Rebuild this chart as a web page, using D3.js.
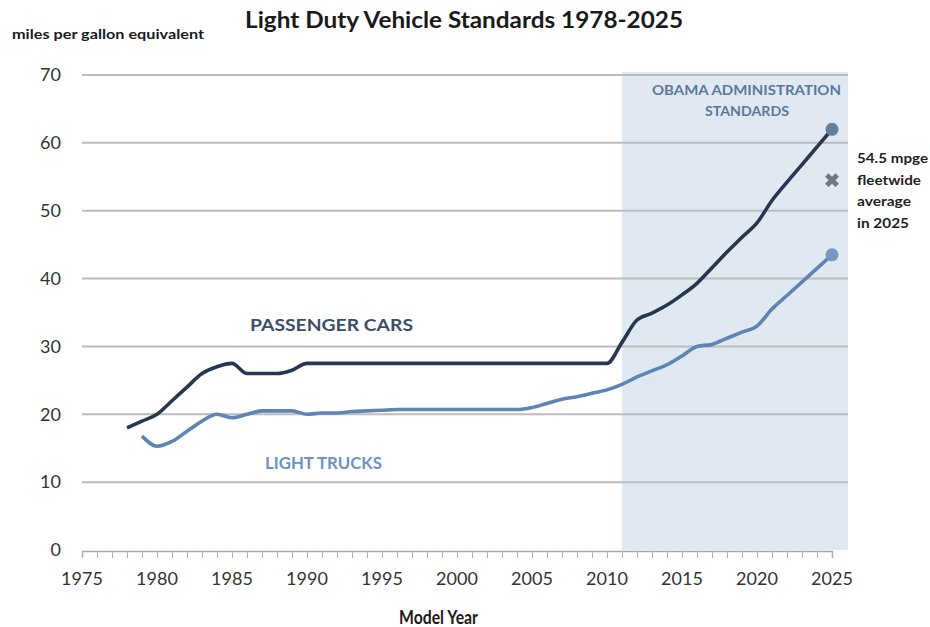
<!DOCTYPE html>
<html>
<head>
<meta charset="utf-8">
<script src="https://cdn.jsdelivr.net/npm/d3@7"></script>
<style>
  html, body { margin: 0; padding: 0; background: #ffffff; }
  svg { display: block; font-family: Lato, "Open Sans", sans-serif; }
</style>
</head>
<body>
<svg id="chart" width="930" height="627"></svg>
<script>
// Model years and fuel economy standards (mpg equivalent)
const carYears = [1978, 1979, 1980, 1981, 1982, 1983, 1984, 1985, 1986, 1987, 1988, 1989,
  1990, 1991, 1992, 1993, 1994, 1995, 1996, 1997, 1998, 1999, 2000, 2001, 2002, 2003,
  2004, 2005, 2006, 2007, 2008, 2009, 2010, 2011, 2012, 2013, 2014, 2015, 2016, 2017,
  2018, 2019, 2020, 2021, 2022, 2023, 2024, 2025];
const carMpg = [18.0, 19.0, 20.0, 22.0, 24.0, 26.0, 27.0, 27.5, 26.0, 26.0, 26.0, 26.5,
  27.5, 27.5, 27.5, 27.5, 27.5, 27.5, 27.5, 27.5, 27.5, 27.5, 27.5, 27.5, 27.5, 27.5,
  27.5, 27.5, 27.5, 27.5, 27.5, 27.5, 27.5, 30.6, 33.9, 34.9, 36.1, 37.6, 39.3, 41.6,
  43.9, 46.1, 48.2, 51.5, 54.2, 56.8, 59.4, 62.0];

const truckYears = [1979, 1980, 1981, 1982, 1983, 1984, 1985, 1986, 1987, 1988, 1989,
  1990, 1991, 1992, 1993, 1994, 1995, 1996, 1997, 1998, 1999, 2000, 2001, 2002, 2003,
  2004, 2005, 2006, 2007, 2008, 2009, 2010, 2011, 2012, 2013, 2014, 2015, 2016, 2017,
  2018, 2019, 2020, 2021, 2022, 2023, 2024, 2025];
const truckMpg = [16.8, 15.3, 16.0, 17.5, 19.0, 20.0, 19.5, 20.0, 20.5, 20.5, 20.5,
  20.0, 20.2, 20.2, 20.4, 20.5, 20.6, 20.7, 20.7, 20.7, 20.7, 20.7, 20.7, 20.7, 20.7,
  20.7, 21.0, 21.6, 22.2, 22.6, 23.1, 23.6, 24.4, 25.5, 26.4, 27.3, 28.6, 30.0, 30.3,
  31.2, 32.1, 33.0, 35.5, 37.5, 39.5, 41.5, 43.5];

const fleetYear = 2025;
const fleetMpg = 54.5;
const shadeStartYear = 2011;

const yTicks = [0, 10, 20, 30, 40, 50, 60, 70];
const xLabelTicks = [1975, 1980, 1985, 1990, 1995, 2000, 2005, 2010, 2015, 2020, 2025];
const xMinorTicks = d3.range(1975, 2026);

const svg = d3.select("#chart");

const plotLeft = 82, plotRight = 848;
const x = d3.scaleLinear().domain([1975, 2025]).range([82, 832]);
const y = d3.scaleLinear().domain([0, 70]).range([550, 75]);

// Shaded period of the new standards
svg.append("rect")
  .attr("x", x(shadeStartYear))
  .attr("y", y(70) - 3)
  .attr("width", plotRight - x(shadeStartYear))
  .attr("height", y(0) - y(70) + 3)
  .attr("fill", "#e0e8f2");

// Horizontal gridlines
svg.append("g")
  .selectAll("line")
  .data(yTicks.filter(d => d > 0))
  .join("line")
  .attr("x1", plotLeft).attr("x2", plotRight)
  .attr("y1", d => y(d)).attr("y2", d => y(d))
  .attr("stroke", "#bcbcbc")
  .attr("stroke-width", 2);

// Y axis labels
svg.append("g")
  .selectAll("text")
  .data(yTicks)
  .join("text")
  .attr("x", 61)
  .attr("y", d => y(d))
  .attr("dy", "0.35em")
  .attr("text-anchor", "end")
  .attr("font-size", 18)
  .attr("fill", "#333")
  .text(d => d);

// X axis with a tick for every model year
const xAxis = d3.axisBottom(x)
  .tickValues(xMinorTicks)
  .tickSize(7)
  .tickFormat("");
const gx = svg.append("g")
  .attr("transform", `translate(0,${y(0) + 1})`)
  .call(xAxis);
gx.select(".domain").attr("stroke", "#a8a8a8").attr("stroke-width", 1.5);
gx.selectAll(".tick line").attr("stroke", "#b0b0b0");

svg.append("g")
  .selectAll("text")
  .data(xLabelTicks)
  .join("text")
  .attr("x", d => x(d))
  .attr("y", 585)
  .attr("text-anchor", "middle")
  .attr("font-size", 18)
  .attr("fill", "#333")
  .text(d => d);

// Series lines
const line = d3.line()
  .x(d => x(d[0]))
  .y(d => y(d[1]))
  .curve(d3.curveMonotoneX);

const carData = d3.zip(carYears, carMpg);
const truckData = d3.zip(truckYears, truckMpg);

svg.append("path")
  .datum(truckData)
  .attr("d", line)
  .attr("fill", "none")
  .attr("stroke", "#5d84b3")
  .attr("stroke-width", 3.6)
  .attr("stroke-linejoin", "round");

svg.append("path")
  .datum(carData)
  .attr("d", line)
  .attr("fill", "none")
  .attr("stroke", "#25384f")
  .attr("stroke-width", 3.6)
  .attr("stroke-linejoin", "round");

// Endpoint markers for 2025
const carEnd = carData[carData.length - 1];
const truckEnd = truckData[truckData.length - 1];
svg.append("circle")
  .attr("cx", x(carEnd[0])).attr("cy", y(carEnd[1]))
  .attr("r", 6.5)
  .attr("fill", "#627f9c");
svg.append("circle")
  .attr("cx", x(truckEnd[0])).attr("cy", y(truckEnd[1]))
  .attr("r", 6.5)
  .attr("fill", "#7398c4");

// Fleetwide average marker
svg.append("path")
  .attr("d", d3.symbol().type(d3.symbolCross).size(120)())
  .attr("transform", `translate(${x(fleetYear)},${y(fleetMpg)}) rotate(45)`)
  .attr("fill", "#6b7986");

// Titles
svg.append("text")
  .attr("x", 245).attr("y", 28)
  .attr("font-size", 22)
  .attr("font-weight", "bold")
  .attr("fill", "#1a1a1a")
  .attr("textLength", 438)
  .attr("lengthAdjust", "spacingAndGlyphs")
  .text("Light Duty Vehicle Standards 1978-2025");

svg.append("text")
  .attr("x", 12).attr("y", 39)
  .attr("font-size", 14)
  .attr("font-weight", "bold")
  .attr("fill", "#1a1a1a")
  .attr("textLength", 192)
  .attr("lengthAdjust", "spacingAndGlyphs")
  .text("miles per gallon equivalent");

svg.append("text")
  .attr("x", 399).attr("y", 624)
  .attr("font-size", 18)
  .attr("font-weight", "bold")
  .attr("fill", "#1a1a1a")
  .attr("textLength", 79)
  .attr("lengthAdjust", "spacingAndGlyphs")
  .text("Model Year");

// Series labels
svg.append("text")
  .attr("x", 250).attr("y", 331)
  .attr("font-size", 17)
  .attr("font-weight", "bold")
  .attr("fill", "#3b4d69")
  .attr("textLength", 163)
  .attr("lengthAdjust", "spacingAndGlyphs")
  .text("PASSENGER CARS");

svg.append("text")
  .attr("x", 265).attr("y", 469)
  .attr("font-size", 17)
  .attr("font-weight", "bold")
  .attr("fill", "#6c93c1")
  .attr("textLength", 117)
  .attr("lengthAdjust", "spacingAndGlyphs")
  .text("LIGHT TRUCKS");

// Period label
const period = svg.append("text")
  .attr("font-size", 13.5)
  .attr("font-weight", "bold")
  .attr("fill", "#5b7898");
period.append("tspan").attr("x", 652).attr("y", 95)
  .attr("textLength", 189)
  .attr("lengthAdjust", "spacingAndGlyphs")
  .text("OBAMA ADMINISTRATION");
period.append("tspan").attr("x", 705).attr("y", 116)
  .attr("textLength", 84)
  .attr("lengthAdjust", "spacingAndGlyphs")
  .text("STANDARDS");

// Fleetwide note
const note = svg.append("text")
  .attr("font-size", 14)
  .attr("font-weight", "bold")
  .attr("fill", "#1f1f1f");
const noteLines = ["54.5 mpge", "fleetwide", "average", "in 2025"];
const noteWidths = [71, 64, 54, 52];
noteLines.forEach((t, i) => {
  note.append("tspan").attr("x", 857).attr("y", 163 + i * 21.5)
    .attr("textLength", noteWidths[i])
    .attr("lengthAdjust", "spacingAndGlyphs")
    .text(t);
});
</script>
</body>
</html>
